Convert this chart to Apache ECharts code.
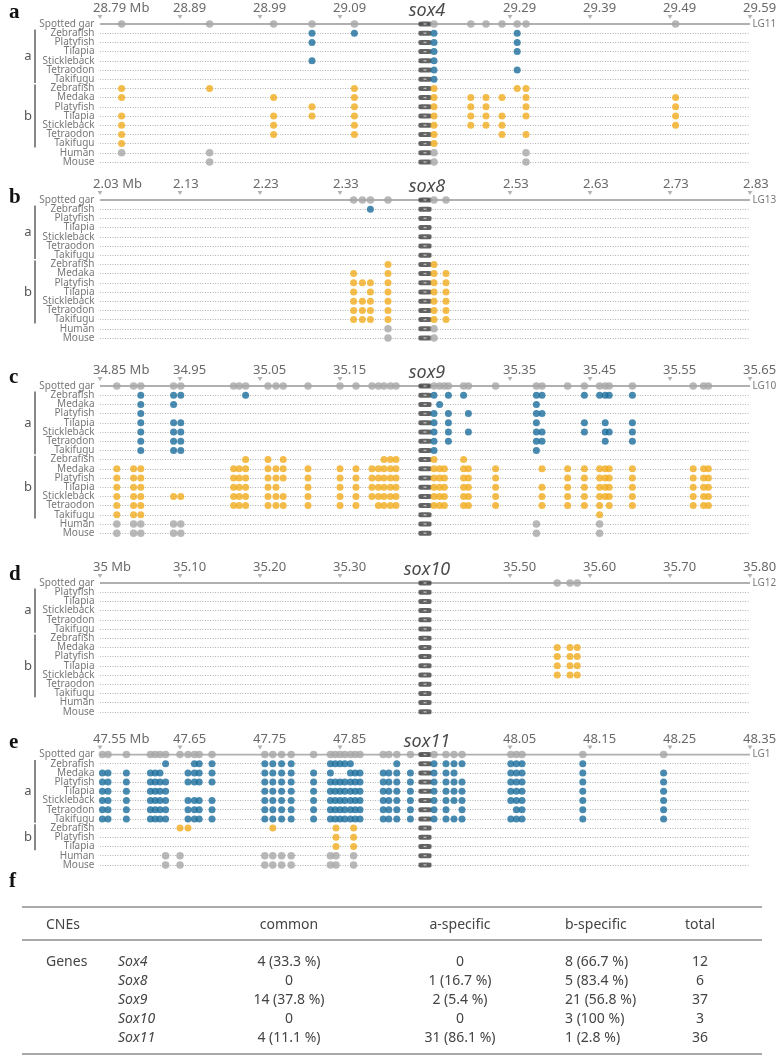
<!DOCTYPE html>
<html><head><meta charset="utf-8">
<script src="https://cdn.jsdelivr.net/npm/echarts@6/dist/echarts.min.js"></script>
<style>html,body{margin:0;padding:0;background:#fff}#c{width:777px;height:1057px}</style>
</head><body><div id="c"></div>
<script>
// ================= DATA =================
const panelLetters = ['a','b','c','d','e'];
const geneNames = ['sox4','sox8','sox9','sox10','sox11'];
const chromosomes = ['LG11','LG13','LG10','LG12','LG1'];
const geneMb = [29.19, 2.43, 35.25, 35.40, 47.95];

const tickValuesA = [28.79,28.89,28.99,29.09,29.29,29.39,29.49,29.59];
const tickLabelsA = ['28.79 Mb','28.89','28.99','29.09','29.29','29.39','29.49','29.59'];
const tickValuesB = [2.03,2.13,2.23,2.33,2.53,2.63,2.73,2.83];
const tickLabelsB = ['2.03 Mb','2.13','2.23','2.33','2.53','2.63','2.73','2.83'];
const tickValuesC = [34.85,34.95,35.05,35.15,35.35,35.45,35.55,35.65];
const tickLabelsC = ['34.85 Mb','34.95','35.05','35.15','35.35','35.45','35.55','35.65'];
const tickValuesD = [35.00,35.10,35.20,35.30,35.50,35.60,35.70,35.80];
const tickLabelsD = ['35 Mb','35.10','35.20','35.30','35.50','35.60','35.70','35.80'];
const tickValuesE = [47.55,47.65,47.75,47.85,48.05,48.15,48.25,48.35];
const tickLabelsE = ['47.55 Mb','47.65','47.75','47.85','48.05','48.15','48.25','48.35'];

const speciesA = ['Spotted gar','Zebrafish','Platyfish','Tilapia','Stickleback','Tetraodon','Takifugu','Zebrafish','Medaka','Platyfish','Tilapia','Stickleback','Tetraodon','Takifugu','Human','Mouse'];
const groupsA  = ['o','a','a','a','a','a','a','b','b','b','b','b','b','b','o','o'];
const speciesB = speciesA;
const groupsB = groupsA;
const speciesC = ['Spotted gar','Zebrafish','Medaka','Platyfish','Tilapia','Stickleback','Tetraodon','Takifugu','Zebrafish','Medaka','Platyfish','Tilapia','Stickleback','Tetraodon','Takifugu','Human','Mouse'];
const groupsC  = ['o','a','a','a','a','a','a','a','b','b','b','b','b','b','b','o','o'];
const speciesD = ['Spotted gar','Platyfish','Tilapia','Stickleback','Tetraodon','Takifugu','Zebrafish','Medaka','Platyfish','Tilapia','Stickleback','Tetraodon','Takifugu','Human','Mouse'];
const groupsD  = ['o','a','a','a','a','a','b','b','b','b','b','b','b','o','o'];
const speciesE = ['Spotted gar','Zebrafish','Medaka','Platyfish','Tilapia','Stickleback','Tetraodon','Takifugu','Zebrafish','Platyfish','Tilapia','Human','Mouse'];
const groupsE  = ['o','a','a','a','a','a','a','a','b','b','b','o','o'];

// CNE positions (Mb) per row
const cneA = [
 [28.817,28.927,29.007,29.055,29.108,29.195,29.241,29.260,29.280,29.299,29.310,29.497],
 [29.055,29.108,29.195,29.299],
 [29.055,29.195,29.299],
 [29.195,29.299],
 [29.055,29.195],
 [29.195,29.299],
 [29.195],
 [28.817,28.927,29.108,29.195,29.299,29.310],
 [28.817,29.007,29.108,29.195,29.241,29.260,29.280,29.310,29.497],
 [29.055,29.108,29.195,29.241,29.260,29.310,29.497],
 [28.817,29.007,29.055,29.108,29.195,29.241,29.260,29.280,29.310,29.497],
 [28.817,29.007,29.108,29.195,29.241,29.260,29.280,29.497],
 [28.817,29.007,29.108,29.195,29.280,29.310],
 [28.817,29.195],
 [28.817,28.927,29.195,29.310],
 [28.927,29.195,29.310]
];
const cneB = [
 [2.347,2.358,2.368,2.390,2.435,2.450],
 [2.368],
 [],[],[],[],[],
 [2.390,2.435],
 [2.347,2.390,2.435,2.450],
 [2.347,2.358,2.368,2.390,2.435,2.450],
 [2.347,2.368,2.390,2.435,2.450],
 [2.347,2.358,2.368,2.390,2.435,2.450],
 [2.347,2.358,2.368,2.390,2.435,2.450],
 [2.347,2.358,2.368,2.390,2.435,2.450],
 [2.390,2.435],
 [2.390,2.435]
];
const cneC = [
 [34.871,34.892,34.901,34.942,34.951,35.017,35.024,35.032,35.060,35.070,35.079,35.110,35.150,35.170,35.190,35.198,35.205,35.213,35.220,35.255,35.262,35.268,35.273,35.292,35.298,35.332,35.383,35.390,35.422,35.443,35.462,35.469,35.474,35.503,35.579,35.592,35.598],
 [34.901,34.942,34.951,35.032,35.255,35.273,35.292,35.383,35.390,35.443,35.462,35.469,35.474,35.503],
 [34.901,34.942,35.262,35.383],
 [34.901,35.255,35.273,35.298,35.383,35.390],
 [34.901,34.942,34.951,35.255,35.273,35.383,35.443,35.469,35.503],
 [34.901,34.942,34.951,35.255,35.273,35.298,35.383,35.390,35.443,35.469,35.474,35.503],
 [34.901,34.942,34.951,35.255,35.273,35.383,35.390,35.469,35.503],
 [34.901,34.942,34.951,35.255,35.383],
 [35.032,35.060,35.079,35.205,35.213,35.220,35.255,35.292],
 [34.871,34.892,34.901,35.017,35.024,35.032,35.060,35.070,35.079,35.110,35.150,35.170,35.190,35.198,35.205,35.213,35.220,35.255,35.262,35.268,35.292,35.298,35.332,35.390,35.422,35.443,35.462,35.469,35.474,35.503,35.579,35.592,35.598],
 [34.871,34.892,34.901,35.017,35.024,35.032,35.060,35.070,35.079,35.110,35.150,35.170,35.190,35.198,35.205,35.213,35.220,35.255,35.262,35.268,35.292,35.298,35.332,35.422,35.443,35.462,35.469,35.474,35.503,35.579,35.592,35.598],
 [34.871,34.892,34.901,35.017,35.024,35.032,35.060,35.070,35.110,35.150,35.170,35.190,35.198,35.205,35.213,35.220,35.255,35.262,35.268,35.292,35.298,35.332,35.390,35.422,35.443,35.462,35.469,35.474,35.503,35.579,35.592,35.598],
 [34.871,34.892,34.901,34.942,34.951,35.017,35.024,35.032,35.060,35.070,35.079,35.110,35.150,35.170,35.190,35.198,35.205,35.213,35.220,35.255,35.262,35.268,35.292,35.298,35.332,35.390,35.422,35.443,35.462,35.469,35.474,35.503,35.579,35.592,35.598],
 [34.871,34.892,34.901,35.017,35.024,35.032,35.060,35.070,35.079,35.110,35.150,35.170,35.198,35.205,35.213,35.220,35.255,35.262,35.268,35.292,35.298,35.332,35.390,35.422,35.443,35.462,35.474,35.503,35.579,35.592,35.598],
 [34.871,34.892,34.901,35.462],
 [34.871,34.892,34.901,34.942,34.951,35.383,35.462],
 [34.871,34.892,34.901,34.942,34.951,35.383,35.462]
];
const cneD = [
 [35.559,35.575,35.584],
 [],[],[],[],[],
 [],
 [35.559,35.575,35.584],
 [35.559,35.575,35.584],
 [35.559,35.575,35.584],
 [35.559,35.575,35.584],
 [],[],[],[]
];
const cneE = [
 [47.553,47.560,47.583,47.613,47.619,47.625,47.632,47.650,47.660,47.668,47.674,47.690,47.756,47.766,47.777,47.789,47.817,47.838,47.844,47.850,47.856,47.863,47.869,47.875,47.904,47.911,47.921,47.938,47.955,47.970,47.980,47.990,48.051,48.058,48.065,48.141,48.242],
 [47.632,47.668,47.674,47.690,47.756,47.766,47.777,47.789,47.838,47.844,47.850,47.856,47.863,47.921,47.955,47.970,47.980,47.990,48.051,48.058,48.065,48.141],
 [47.553,47.560,47.583,47.613,47.619,47.625,47.660,47.668,47.674,47.690,47.756,47.766,47.777,47.789,47.817,47.838,47.863,47.869,47.875,47.904,47.911,47.921,47.938,47.955,47.970,47.980,48.051,48.058,48.065,48.141,48.242],
 [47.553,47.560,47.583,47.613,47.619,47.625,47.632,47.660,47.668,47.674,47.690,47.756,47.766,47.777,47.789,47.817,47.838,47.844,47.850,47.856,47.863,47.869,47.875,47.904,47.911,47.921,47.938,47.955,47.970,47.980,47.990,48.051,48.058,48.065,48.141,48.242],
 [47.553,47.560,47.583,47.613,47.619,47.625,47.632,47.756,47.766,47.777,47.789,47.817,47.838,47.844,47.850,47.856,47.863,47.869,47.875,47.904,47.911,47.921,47.938,47.955,47.970,47.980,47.990,48.051,48.058,48.065,48.141,48.242],
 [47.553,47.560,47.583,47.613,47.619,47.625,47.632,47.660,47.668,47.674,47.690,47.756,47.766,47.777,47.789,47.817,47.838,47.844,47.850,47.856,47.863,47.869,47.875,47.904,47.911,47.921,47.938,47.955,47.970,47.980,47.990,48.051,48.058,48.065,48.141,48.242],
 [47.553,47.560,47.583,47.613,47.619,47.625,47.632,47.660,47.668,47.674,47.690,47.756,47.766,47.777,47.789,47.817,47.838,47.844,47.850,47.856,47.863,47.869,47.875,47.904,47.911,47.921,47.938,47.955,47.970,47.990,48.058,48.065,48.141,48.242],
 [47.553,47.560,47.583,47.613,47.619,47.625,47.632,47.660,47.668,47.674,47.690,47.756,47.766,47.777,47.789,47.817,47.838,47.844,47.850,47.856,47.863,47.869,47.875,47.904,47.911,47.921,47.938,47.955,47.970,47.980,47.990,48.051,48.058,48.065,48.141,48.242],
 [47.650,47.660,47.766,47.845,47.867],
 [47.845,47.867],
 [47.845,47.867],
 [47.632,47.650,47.756,47.766,47.777,47.789,47.838,47.845,47.867],
 [47.632,47.650,47.756,47.766,47.777,47.789,47.838,47.845,47.867]
];

// Table (panel f)
const tableHeader = ['CNEs','common','a-specific','b-specific','total'];
const tableRowTitle = 'Genes';
const tableGenes = ['Sox4','Sox8','Sox9','Sox10','Sox11'];
const tableCommon = ['4 (33.3 %)','0','14 (37.8 %)','0','4 (11.1 %)'];
const tableASpecific = ['0','1 (16.7 %)','2 (5.4 %)','0','31 (86.1 %)'];
const tableBSpecific = ['8 (66.7 %)','5 (83.4 %)','21 (56.8 %)','3 (100 %)','1 (2.8 %)'];
const tableTotal = ['12','6','37','3','36'];

// ================= LAYOUT / STYLE =================
const GAP = 0.0125;             // space taken by the gene glyph on the axis (Mb units)
const SPAN = 0.8;
const GRID_LEFT = 100, GRID_W = 650;
const ROW_H = 9.2;
const panelTop = [24, 200, 386, 583, 754.5];
const letterY = [13, 198, 378, 575, 743];
const COLORS = {o:'#a6a6a6', a:'#1b6e9c', b:'#f1ad1e'};
const FONT = '"Noto Sans", "Open Sans", sans-serif';
const SERIF = '"Liberation Serif", "DejaVu Serif", serif';

const panels = [
 {ticks:tickValuesA, labels:tickLabelsA, species:speciesA, groups:groupsA, cne:cneA},
 {ticks:tickValuesB, labels:tickLabelsB, species:speciesB, groups:groupsB, cne:cneB},
 {ticks:tickValuesC, labels:tickLabelsC, species:speciesC, groups:groupsC, cne:cneC},
 {ticks:tickValuesD, labels:tickLabelsD, species:speciesD, groups:groupsD, cne:cneD},
 {ticks:tickValuesE, labels:tickLabelsE, species:speciesE, groups:groupsE, cne:cneE}
];

const option = {animation:false, backgroundColor:'#fff', grid:[], xAxis:[], yAxis:[], series:[], graphic:[]};

panels.forEach((p, i) => {
  const start = p.ticks[0];
  const gene = geneMb[i];
  const disp = v => (v > gene + 1e-6 ? v + GAP : v);
  const n = p.species.length;
  const top = panelTop[i];
  option.grid.push({left:GRID_LEFT, width:GRID_W, top:top, height:(n-1)*ROW_H});
  option.xAxis.push({gridIndex:i, type:'value', min:start, max:start+SPAN+GAP, show:false});
  option.yAxis.push({gridIndex:i, type:'value', inverse:true, min:0, max:n-1, interval:1,
    axisLine:{show:false}, axisTick:{show:false}, axisLabel:{show:false},
    splitLine:{show:true, lineStyle:{color:'#a0a0a0', type:[1,1.5], width:0.8}}
  });
  const ax = {xAxisIndex:i, yAxisIndex:i, silent:true};
  // species row labels
  option.series.push(Object.assign({type:'scatter', symbol:'circle', symbolSize:1,
    itemStyle:{color:'rgba(0,0,0,0)'}, z:3,
    label:{show:true, position:'left', distance:5, fontSize:10, color:'#555', fontFamily:FONT, formatter:'{b}'},
    data:p.species.map((s,k) => ({value:[start,k], name:s}))}, ax));
  // spotted gar reference line
  option.series.push(Object.assign({type:'line', symbol:'none', z:2,
    data:[[start,0],[start+SPAN+GAP,0]], lineStyle:{color:'#b0b0b0', width:2}}, ax));
  // tick marks
  option.series.push(Object.assign({type:'scatter', symbol:'triangle', symbolRotate:180,
    symbolSize:[5,4], symbolOffset:[0,-7], itemStyle:{color:'#a0a0a0'}, z:3,
    data:p.ticks.map(v => [disp(v), 0])}, ax));
  // tick labels
  option.series.push(Object.assign({type:'scatter', symbol:'circle', symbolSize:1,
    itemStyle:{color:'rgba(0,0,0,0)'}, z:3,
    label:{show:true, position:'inside', align:'left', verticalAlign:'middle', offset:[-7,-15.5],
      fontSize:13, color:'#444', fontFamily:FONT, formatter:'{b}'},
    data:p.ticks.map((v,k) => ({value:[disp(v),0], name:p.labels[k]}))}, ax));
  // chromosome label at end
  option.series.push(Object.assign({type:'scatter', symbol:'circle', symbolSize:1,
    itemStyle:{color:'rgba(0,0,0,0)'}, z:3,
    label:{show:true, position:'right', distance:2, fontSize:10, color:'#555', fontFamily:FONT, formatter:'{b}'},
    data:[{value:[start+SPAN+GAP,0], name:chromosomes[i]}]}, ax));
  // gene name
  option.series.push(Object.assign({type:'scatter', symbol:'circle', symbolSize:1,
    itemStyle:{color:'rgba(0,0,0,0)'}, z:3,
    label:{show:true, position:'inside', align:'center', verticalAlign:'middle', offset:[2,-13],
      fontSize:18, fontStyle:'italic', color:'#1a1a1a', fontFamily:FONT, formatter:'{b}'},
    data:[{value:[gene+GAP/2,0], name:geneNames[i]}]}, ax));
  // gene glyph in every row
  const rows = p.species.map((s,k) => [gene+GAP/2, k]);
  option.series.push(Object.assign({type:'scatter', symbol:'roundRect', symbolSize:[13,5],
    itemStyle:{color:'#3c3c3c'}, z:4, data:rows}, ax));
  option.series.push(Object.assign({type:'scatter', symbol:'rect', symbolSize:[3,1.4],
    itemStyle:{color:'#cfcfcf'}, z:5, data:rows}, ax));
  // CNE dots by group
  ['o','a','b'].forEach(g => {
    const pts = [];
    p.cne.forEach((row, k) => { if (p.groups[k] === g) row.forEach(v => pts.push([disp(v), k])); });
    option.series.push(Object.assign({type:'scatter', symbol:'circle', symbolSize: g==='o' ? 7.5 : 7,
      itemStyle:{color:COLORS[g]}, z:6, data:pts}, ax));
  });
  // panel letter
  option.graphic.push({type:'text', x:9, y:letterY[i], z:10,
    style:{text:panelLetters[i], font:'bold 21px ' + SERIF, fill:'#111', align:'left', verticalAlign:'middle'}});
  // group brackets
  ['a','b'].forEach(g => {
    const idx = p.groups.map((gg,k) => gg===g ? k : -1).filter(k => k >= 0);
    const y1 = top + idx[0]*ROW_H - 3.8, y2 = top + idx[idx.length-1]*ROW_H + 3.8;
    option.graphic.push({type:'line', z:10, shape:{x1:35, y1:y1, x2:35, y2:y2},
      style:{stroke:'#555', lineWidth:1.4}});
    option.graphic.push({type:'text', x:28, y:(y1+y2)/2, z:10,
      style:{text:g, font:'13px ' + FONT, fill:'#555', align:'center', verticalAlign:'middle'}});
  });
});

// ---- panel f: table ----
const T = {lineX1:22, lineX2:762, top:907, headLine:940, bottom:1054, headY:925,
  rowY:[962, 981, 1000, 1019, 1038], cnesX:46, geneX:118, commonX:289, aX:460, bX:565, totalX:700};
const tFont = '14px ' + FONT;
const tColor = '#444';
option.graphic.push({type:'text', x:9, y:882, style:{text:'f', font:'bold 21px ' + SERIF, fill:'#111', align:'left', verticalAlign:'middle'}});
[T.top, T.headLine, T.bottom].forEach(y => option.graphic.push({type:'line',
  shape:{x1:T.lineX1, y1:y, x2:T.lineX2, y2:y}, style:{stroke:'#8c8c8c', lineWidth:1.6}}));
const txt = (s, x, y, align, italic) => option.graphic.push({type:'text', x:x, y:y,
  style:{text:s, font:(italic ? 'italic ' : '') + tFont, fill:tColor, align:align, verticalAlign:'middle'}});
txt(tableHeader[0], T.cnesX, T.headY, 'left');
txt(tableHeader[1], T.commonX, T.headY, 'center');
txt(tableHeader[2], T.aX, T.headY, 'center');
txt(tableHeader[3], T.bX, T.headY, 'left');
txt(tableHeader[4], T.totalX, T.headY, 'center');
txt(tableRowTitle, T.cnesX, T.rowY[0], 'left');
tableGenes.forEach((g, k) => {
  const y = T.rowY[k];
  txt(g, T.geneX, y, 'left', true);
  txt(tableCommon[k], T.commonX, y, 'center');
  txt(tableASpecific[k], T.aX, y, 'center');
  txt(tableBSpecific[k], T.bX, y, 'left');
  txt(tableTotal[k], T.totalX, y, 'center');
});

const chart = echarts.init(document.getElementById('c'), null, {renderer:'canvas'});
chart.setOption(option);
</script>
</body></html>
